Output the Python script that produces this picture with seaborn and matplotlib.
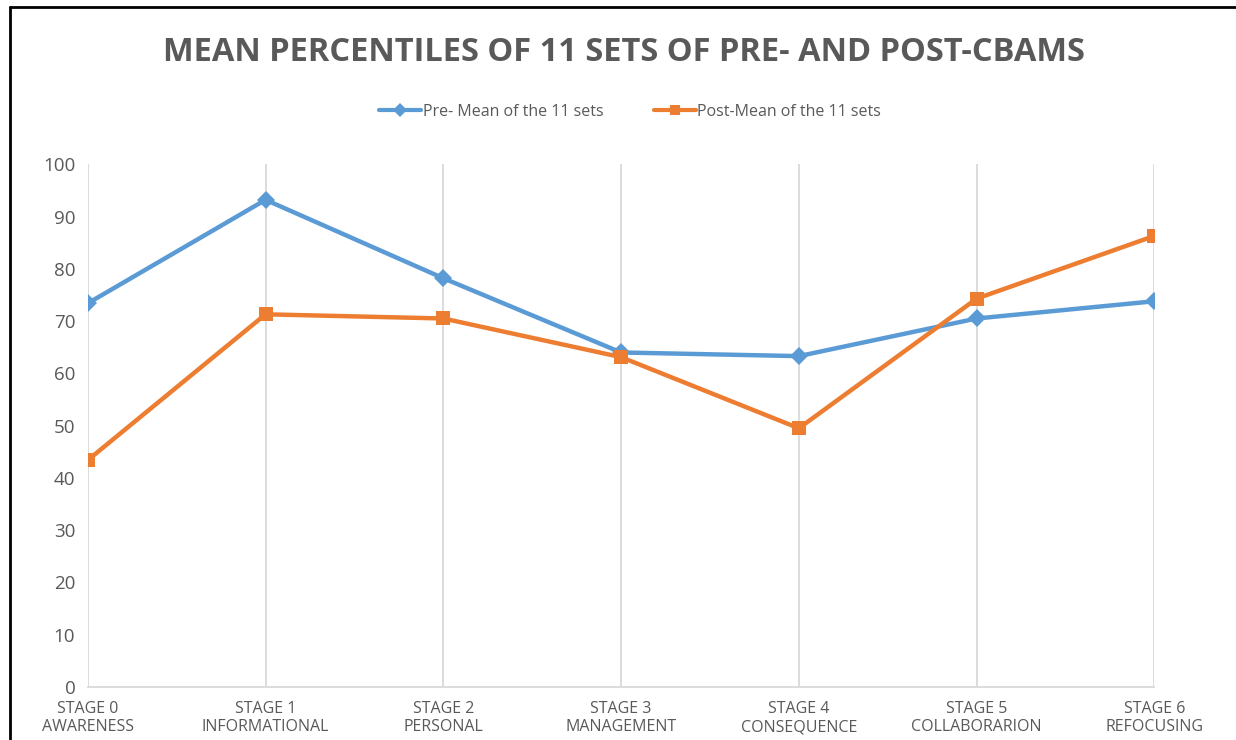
import pandas as pd
import numpy as np
import matplotlib.pyplot as plt
import seaborn as sns
from matplotlib.lines import Line2D

# Data
stages = ['STAGE 0\nAWARENESS', 'STAGE 1\nINFORMATIONAL', 'STAGE 2\nPERSONAL',
          'STAGE 3\nMANAGEMENT', 'STAGE 4\nCONSEQUENCE', 'STAGE 5\nCOLLABORARION',
          'STAGE 6\nREFOCUSING']
pre_mean = [73.4, 93.2, 78.2, 64.0, 63.3, 70.5, 73.8]
post_mean = [43.4, 71.3, 70.5, 63.1, 49.5, 74.3, 86.3]
series_names = ['Pre- Mean of the 11 sets', 'Post-Mean of the 11 sets']
y_ticks = list(range(0, 101, 10))

blue = '#5B9BD5'
orange = '#ED7D31'
text_gray = '#595959'

sns.set_theme(style='white')
plt.rcParams['font.family'] = ['Open Sans', 'DejaVu Sans']

df = pd.DataFrame({
    'pos': list(range(len(stages))) * 2,
    'value': pre_mean + post_mean,
    'series': [series_names[0]] * len(stages) + [series_names[1]] * len(stages),
})

fig = plt.figure(figsize=(12.36, 7.40), dpi=100)
ax = fig.add_axes([0.071, 0.0716, 0.863, 0.7064])

sns.lineplot(data=df, x='pos', y='value', hue='series', style='series',
             palette=[blue, orange], markers=['D', 's'], dashes=False,
             linewidth=3.2, markersize=9.5, markeredgewidth=0, ax=ax, legend=False)

ax.set_xlim(0, len(stages) - 1)
ax.set_ylim(0, 100)
ax.set_yticks(y_ticks)
ax.set_xticks(range(len(stages)))
ax.set_xticklabels(stages, fontsize=11.5, color=text_gray, linespacing=1.2)
ax.tick_params(axis='y', labelsize=13.5, colors=text_gray, pad=9, length=0)
ax.tick_params(axis='x', pad=10, length=0)
ax.set_xlabel('')
ax.set_ylabel('')

ax.grid(axis='x', color='#D9D9D9', linewidth=1.3)
ax.grid(axis='y', visible=False)
for side in ['top', 'right', 'left']:
    ax.spines[side].set_visible(False)
ax.spines['bottom'].set_color('#D9D9D9')
ax.spines['bottom'].set_linewidth(1.3)

fig.text(0.505, 0.929, 'MEAN PERCENTILES OF 11 SETS OF PRE- AND POST-CBAMS',
         ha='center', va='center', fontsize=23.5, fontweight='bold', color=text_gray)

handles = [Line2D([], [], color=blue, lw=3, marker='D', markersize=7, markeredgewidth=0),
           Line2D([], [], color=orange, lw=3, marker='s', markersize=7, markeredgewidth=0)]
fig.legend(handles, series_names, loc='center', bbox_to_anchor=(0.51, 0.849), ncol=2,
           frameon=False, fontsize=11.5, labelcolor=text_gray, handlelength=2.6,
           handletextpad=0.1, columnspacing=3.2)

# screenshot frame at left and top
fig.add_artist(Line2D([0.008, 0.008], [0, 0.99], transform=fig.transFigure, color='black', lw=2))
fig.add_artist(Line2D([0.008, 1], [0.99, 0.99], transform=fig.transFigure, color='black', lw=2))

fig.savefig('out.png', dpi=100)
